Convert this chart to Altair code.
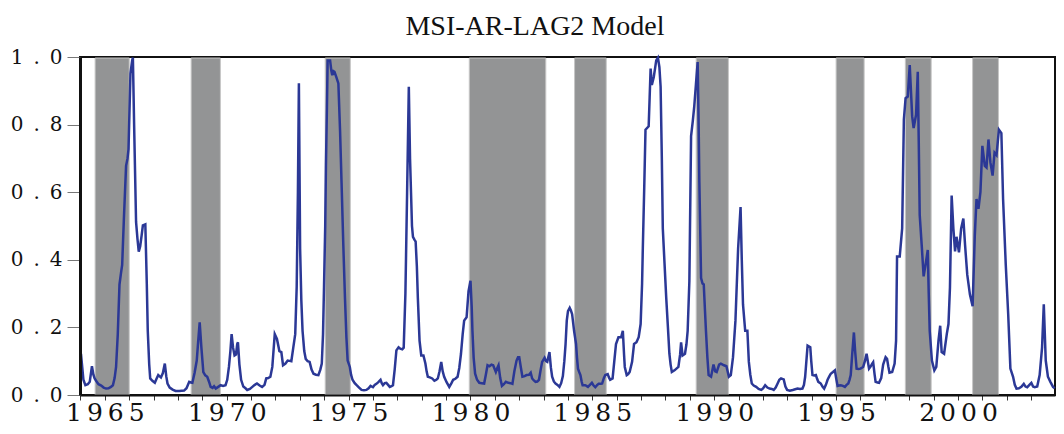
import altair as alt
import pandas as pd

# Smoothed regime probability
years = [
    1964.02, 1964.12, 1964.20, 1964.30, 1964.38, 1964.47, 1964.53, 1964.58, 1964.66, 1964.74,
    1964.85, 1964.95, 1965.05, 1965.15, 1965.25, 1965.33, 1965.40, 1965.46, 1965.53, 1965.60,
    1965.66, 1965.71, 1965.78, 1965.87, 1965.93, 1965.97, 1966.05, 1966.12, 1966.15, 1966.20,
    1966.28, 1966.34, 1966.39, 1966.45, 1966.51, 1966.56, 1966.66, 1966.72, 1966.76, 1966.82,
    1966.86, 1966.95, 1967.05, 1967.12, 1967.19, 1967.25, 1967.30, 1967.38, 1967.46, 1967.52,
    1967.57, 1967.66, 1967.78, 1967.90, 1968.05, 1968.25, 1968.35, 1968.46, 1968.53, 1968.59,
    1968.68, 1968.77, 1968.83, 1968.89, 1968.96, 1969.04, 1969.12, 1969.20, 1969.27, 1969.34,
    1969.42, 1969.48, 1969.55, 1969.65, 1969.75, 1969.85, 1969.95, 1970.02, 1970.09, 1970.15,
    1970.20, 1970.26, 1970.32, 1970.38, 1970.43, 1970.46, 1970.52, 1970.59, 1970.68, 1970.77,
    1970.84, 1970.95, 1971.05, 1971.15, 1971.24, 1971.35, 1971.45, 1971.55, 1971.62, 1971.70,
    1971.79, 1971.87, 1971.97, 1972.06, 1972.16, 1972.24, 1972.31, 1972.41, 1972.50, 1972.58,
    1972.65, 1972.73, 1972.81, 1972.87, 1972.92, 1972.96, 1973.01, 1973.06, 1973.11, 1973.18,
    1973.24, 1973.32, 1973.40, 1973.48, 1973.56, 1973.66, 1973.76, 1973.84, 1973.90, 1973.95,
    1973.99, 1974.04, 1974.07, 1974.11, 1974.14, 1974.24, 1974.29, 1974.33, 1974.38, 1974.42,
    1974.50, 1974.58, 1974.65, 1974.71, 1974.78, 1974.85, 1974.91, 1974.96, 1975.05, 1975.10,
    1975.16, 1975.25, 1975.33, 1975.43, 1975.53, 1975.63, 1975.73, 1975.82, 1975.90, 1976.00,
    1976.07, 1976.14, 1976.22, 1976.31, 1976.36, 1976.41, 1976.48, 1976.55, 1976.62, 1976.69,
    1976.76, 1976.82, 1976.89, 1976.96, 1977.05, 1977.12, 1977.20, 1977.26, 1977.33, 1977.40,
    1977.47, 1977.52, 1977.60, 1977.64, 1977.70, 1977.75, 1977.80, 1977.84, 1977.91, 1977.98,
    1978.07, 1978.15, 1978.20, 1978.25, 1978.33, 1978.43, 1978.52, 1978.60, 1978.66, 1978.73,
    1978.80, 1978.86, 1978.92, 1979.02, 1979.13, 1979.22, 1979.29, 1979.38, 1979.47, 1979.54,
    1979.61, 1979.68, 1979.74, 1979.84, 1979.92, 1980.00, 1980.05, 1980.08, 1980.13, 1980.19,
    1980.27, 1980.36, 1980.46, 1980.56, 1980.63, 1980.70, 1980.78, 1980.86, 1980.93, 1981.04,
    1981.10, 1981.15, 1981.22, 1981.29, 1981.37, 1981.45, 1981.55, 1981.64, 1981.72, 1981.80,
    1981.89, 1981.95, 1982.00, 1982.07, 1982.13, 1982.22, 1982.30, 1982.40, 1982.47, 1982.53,
    1982.60, 1982.67, 1982.74, 1982.81, 1982.88, 1982.94, 1983.04, 1983.10, 1983.15, 1983.24,
    1983.30, 1983.35, 1983.42, 1983.49, 1983.57, 1983.65, 1983.72, 1983.79, 1983.85, 1983.90,
    1983.95, 1984.00, 1984.07, 1984.12, 1984.17, 1984.25, 1984.33, 1984.37, 1984.41, 1984.46,
    1984.51, 1984.56, 1984.60, 1984.70, 1984.76, 1984.82, 1984.90, 1984.98, 1985.05, 1985.12,
    1985.20, 1985.26, 1985.35, 1985.40, 1985.47, 1985.53, 1985.63, 1985.68, 1985.73, 1985.83,
    1985.90, 1985.97, 1986.07, 1986.18, 1986.25, 1986.30, 1986.33, 1986.41, 1986.47, 1986.53,
    1986.63, 1986.71, 1986.81, 1986.90, 1986.98, 1987.04, 1987.07, 1987.13, 1987.18, 1987.31,
    1987.35, 1987.39, 1987.44, 1987.52, 1987.58, 1987.62, 1987.69, 1987.75, 1987.80, 1987.85,
    1987.89, 1987.96, 1988.03, 1988.10, 1988.16, 1988.21, 1988.26, 1988.37, 1988.45, 1988.53,
    1988.60, 1988.64, 1988.70, 1988.80, 1988.86, 1988.91, 1988.98, 1989.05, 1989.12, 1989.18,
    1989.25, 1989.32, 1989.36, 1989.39, 1989.46, 1989.52, 1989.57, 1989.62, 1989.66, 1989.72,
    1989.77, 1989.87, 1989.97, 1990.04, 1990.10, 1990.20, 1990.27, 1990.40, 1990.50, 1990.60,
    1990.68, 1990.77, 1990.87, 1990.98, 1991.08, 1991.13, 1991.18, 1991.27, 1991.36, 1991.42,
    1991.48, 1991.54, 1991.62, 1991.72, 1991.82, 1991.93, 1992.01, 1992.09, 1992.18, 1992.27,
    1992.36, 1992.44, 1992.52, 1992.60, 1992.67, 1992.74, 1992.85, 1992.92, 1992.99, 1993.10,
    1993.22, 1993.32, 1993.42, 1993.52, 1993.62, 1993.68, 1993.73, 1993.78, 1993.83, 1993.94,
    1993.98, 1994.03, 1994.10, 1994.17, 1994.22, 1994.27, 1994.37, 1994.44, 1994.51, 1994.58,
    1994.65, 1994.72, 1994.78, 1994.87, 1994.95, 1995.00, 1995.06, 1995.12, 1995.19, 1995.28,
    1995.36, 1995.43, 1995.50, 1995.55, 1995.60, 1995.66, 1995.73, 1995.78, 1995.84, 1995.92,
    1996.00, 1996.11, 1996.18, 1996.25, 1996.30, 1996.35, 1996.42, 1996.48, 1996.52, 1996.58,
    1996.62, 1996.70, 1996.76, 1996.85, 1996.93, 1997.03, 1997.09, 1997.14, 1997.19, 1997.30,
    1997.40, 1997.46, 1997.50, 1997.61, 1997.71, 1997.78, 1997.85, 1997.94, 1998.02, 1998.07,
    1998.12, 1998.18, 1998.28, 1998.35, 1998.39, 1998.43, 1998.52, 1998.59, 1998.69, 1998.76,
    1998.80, 1998.84, 1998.93, 1999.03, 1999.11, 1999.20, 1999.27, 1999.33, 1999.43, 1999.54,
    1999.61, 1999.67, 1999.74, 1999.81, 1999.88, 1999.94, 2000.04, 2000.13, 2000.22, 2000.29,
    2000.38, 2000.49, 2000.60, 2000.69, 2000.76, 2000.84, 2000.92, 2001.00, 2001.10, 2001.17,
    2001.25, 2001.33, 2001.42, 2001.50, 2001.58, 2001.68, 2001.78, 2001.85, 2001.96, 2002.06,
    2002.15, 2002.26, 2002.33, 2002.40, 2002.50, 2002.60, 2002.70, 2002.77, 2002.84, 2002.93,
    2003.01, 2003.08, 2003.15, 2003.25, 2003.35, 2003.45, 2003.52, 2003.60, 2003.69, 2003.79,
    2003.90, 2003.97,
]
probs = [
    0.122, 0.045, 0.029, 0.032, 0.039, 0.085, 0.060, 0.049, 0.040, 0.032,
    0.028, 0.022, 0.019, 0.020, 0.024, 0.029, 0.050, 0.083, 0.180, 0.327,
    0.360, 0.385, 0.520, 0.678, 0.700, 0.727, 0.951, 0.990, 0.998, 0.800,
    0.512, 0.460, 0.424, 0.440, 0.473, 0.502, 0.505, 0.330, 0.190, 0.090,
    0.049, 0.042, 0.036, 0.048, 0.059, 0.055, 0.052, 0.065, 0.093, 0.055,
    0.034, 0.022, 0.016, 0.012, 0.012, 0.013, 0.020, 0.039, 0.037, 0.036,
    0.065, 0.102, 0.160, 0.215, 0.140, 0.068, 0.058, 0.054, 0.040, 0.024,
    0.021, 0.026, 0.019, 0.024, 0.029, 0.027, 0.029, 0.045, 0.083, 0.130,
    0.180, 0.140, 0.117, 0.120, 0.151, 0.156, 0.090, 0.045, 0.025, 0.020,
    0.015, 0.018, 0.024, 0.030, 0.034, 0.028, 0.024, 0.030, 0.049, 0.050,
    0.054, 0.083, 0.180, 0.166, 0.130, 0.127, 0.088, 0.093, 0.102, 0.101,
    0.100, 0.140, 0.180, 0.320, 0.600, 0.922, 0.434, 0.280, 0.190, 0.130,
    0.107, 0.100, 0.098, 0.075, 0.063, 0.060, 0.059, 0.075, 0.093, 0.180,
    0.317, 0.500, 0.678, 0.850, 0.990, 0.990, 0.960, 0.946, 0.958, 0.956,
    0.940, 0.922, 0.780, 0.629, 0.450, 0.288, 0.170, 0.102, 0.083, 0.060,
    0.045, 0.035, 0.029, 0.022, 0.015, 0.014, 0.015, 0.020, 0.027, 0.023,
    0.030, 0.033, 0.038, 0.045, 0.035, 0.029, 0.035, 0.036, 0.030, 0.024,
    0.026, 0.029, 0.075, 0.132, 0.141, 0.137, 0.135, 0.140, 0.300, 0.600,
    0.912, 0.700, 0.500, 0.468, 0.460, 0.454, 0.380, 0.288, 0.161, 0.117,
    0.117, 0.093, 0.070, 0.054, 0.052, 0.049, 0.042, 0.045, 0.049, 0.070,
    0.098, 0.070, 0.054, 0.038, 0.024, 0.035, 0.045, 0.048, 0.054, 0.080,
    0.122, 0.180, 0.220, 0.230, 0.307, 0.338, 0.260, 0.190, 0.110, 0.063,
    0.045, 0.036, 0.035, 0.034, 0.060, 0.088, 0.085, 0.090, 0.088, 0.068,
    0.080, 0.088, 0.050, 0.027, 0.032, 0.039, 0.036, 0.035, 0.033, 0.070,
    0.102, 0.112, 0.112, 0.080, 0.054, 0.056, 0.059, 0.060, 0.066, 0.049,
    0.043, 0.039, 0.040, 0.045, 0.075, 0.098, 0.110, 0.100, 0.098, 0.127,
    0.080, 0.054, 0.040, 0.034, 0.030, 0.024, 0.035, 0.056, 0.100, 0.150,
    0.220, 0.248, 0.258, 0.250, 0.239, 0.190, 0.151, 0.110, 0.078, 0.068,
    0.059, 0.040, 0.029, 0.029, 0.027, 0.024, 0.030, 0.036, 0.028, 0.023,
    0.030, 0.033, 0.033, 0.034, 0.050, 0.059, 0.062, 0.052, 0.045, 0.049,
    0.100, 0.151, 0.171, 0.171, 0.190, 0.120, 0.083, 0.059, 0.062, 0.068,
    0.098, 0.151, 0.156, 0.171, 0.210, 0.330, 0.434, 0.620, 0.785, 0.795,
    0.880, 0.966, 0.917, 0.941, 0.970, 0.990, 0.998, 0.970, 0.912, 0.700,
    0.493, 0.390, 0.288, 0.200, 0.122, 0.090, 0.068, 0.073, 0.078, 0.083,
    0.120, 0.156, 0.117, 0.122, 0.150, 0.190, 0.337, 0.766, 0.810, 0.854,
    0.920, 0.985, 0.800, 0.629, 0.346, 0.330, 0.327, 0.250, 0.190, 0.110,
    0.059, 0.054, 0.090, 0.070, 0.068, 0.090, 0.093, 0.088, 0.085, 0.054,
    0.059, 0.112, 0.220, 0.434, 0.556, 0.400, 0.268, 0.190, 0.190, 0.098,
    0.060, 0.034, 0.028, 0.024, 0.018, 0.015, 0.020, 0.029, 0.022, 0.019,
    0.018, 0.015, 0.022, 0.034, 0.045, 0.049, 0.046, 0.025, 0.015, 0.013,
    0.015, 0.017, 0.019, 0.018, 0.019, 0.030, 0.054, 0.100, 0.146, 0.141,
    0.100, 0.059, 0.058, 0.059, 0.048, 0.039, 0.034, 0.025, 0.019, 0.030,
    0.045, 0.055, 0.063, 0.068, 0.073, 0.050, 0.027, 0.028, 0.029, 0.027,
    0.024, 0.030, 0.034, 0.045, 0.059, 0.120, 0.185, 0.130, 0.078, 0.077,
    0.078, 0.083, 0.100, 0.122, 0.100, 0.078, 0.085, 0.093, 0.097, 0.060,
    0.039, 0.037, 0.036, 0.050, 0.090, 0.112, 0.107, 0.085, 0.066, 0.068,
    0.093, 0.161, 0.410, 0.410, 0.493, 0.815, 0.878, 0.883, 0.976, 0.900,
    0.825, 0.790, 0.829, 0.956, 0.750, 0.532, 0.434, 0.351, 0.395, 0.429,
    0.300, 0.190, 0.102, 0.073, 0.083, 0.161, 0.205, 0.127, 0.122, 0.180,
    0.210, 0.317, 0.590, 0.493, 0.425, 0.468, 0.422, 0.493, 0.522, 0.444,
    0.356, 0.297, 0.263, 0.473, 0.580, 0.551, 0.600, 0.737, 0.678, 0.673,
    0.756, 0.688, 0.649, 0.717, 0.710, 0.785, 0.775, 0.580, 0.385, 0.239,
    0.078, 0.054, 0.030, 0.019, 0.020, 0.024, 0.033, 0.025, 0.023, 0.030,
    0.036, 0.025, 0.023, 0.025, 0.059, 0.141, 0.268, 0.102, 0.054, 0.039,
    0.024, 0.020,
]

# Shaded periods
band_start = [1964.60, 1968.54, 1974.04, 1979.95, 1984.27, 1989.26, 1995.00, 1997.84, 2000.60]
band_end = [1966.00, 1969.74, 1975.07, 1983.09, 1985.57, 1990.58, 1996.15, 1998.90, 2001.66]

x_ticks = list(range(1964, 2004))
y_ticks = [0.0, 0.2, 0.4, 0.6, 0.8, 1.0]

series = pd.DataFrame({"year": years, "prob": probs})
bands = pd.DataFrame({"start": band_start, "end": band_end})

W, H = 975, 338
xscale = alt.Scale(domain=[1963.98, 2003.98], nice=False, zero=False)
yscale = alt.Scale(domain=[0, 1], nice=False)

x_axis = alt.Axis(
    values=x_ticks,
    labelExpr="datum.value % 5 == 0 ? join(split(toString(datum.value), ''), '\u2009') : ''",
    tickSize=5, tickColor="#333333", tickWidth=1,
    domainColor="#111111", domainWidth=2,
    labelFont="DejaVu Serif", labelFontSize=25, labelColor="#111111",
    labelPadding=0, labelOverlap=False, labelFlush=False,
    grid=False, title=None, zindex=1,
)
y_axis = alt.Axis(
    values=y_ticks,
    labelExpr="replace(format(datum.value, '.1f'), '.', '\u2002.\u2002')",
    tickSize=13, tickColor="#777777", tickWidth=1,
    domainColor="#111111", domainWidth=3,
    labelFont="DejaVu Serif", labelFontSize=20, labelColor="#111111",
    labelPadding=5, labelOverlap=False, labelFlush=False,
    grid=False, title=None, zindex=1,
)

band_layer = alt.Chart(bands).mark_rect(
    color="#939495", stroke="#c6c6c6", strokeWidth=1
).encode(
    x=alt.X("start:Q", scale=xscale, axis=x_axis),
    x2="end:Q",
    y=alt.value(1),
    y2=alt.value(H),
)

line_layer = alt.Chart(series).mark_line(
    color="#2B3896", strokeWidth=2.5
).encode(
    x=alt.X("year:Q", scale=xscale, axis=x_axis),
    y=alt.Y("prob:Q", scale=yscale, axis=y_axis),
)

chart = alt.layer(band_layer, line_layer).properties(
    width=W,
    height=H,
    autosize=alt.AutoSizeParams(type="none"),
    padding={"left": 72, "top": 49, "right": 1, "bottom": 31},
    title=alt.TitleParams(
        "MSI-AR-LAG2 Model",
        font="Liberation Serif", fontSize=28, fontWeight="normal",
        color="#111111", anchor="middle", frame="bounds",
        baseline="bottom", offset=8, dy=30,
    ),
).configure_view(stroke="#111111", strokeWidth=2)

chart.save("out.html", embed_options={"renderer": "svg", "actions": False})
